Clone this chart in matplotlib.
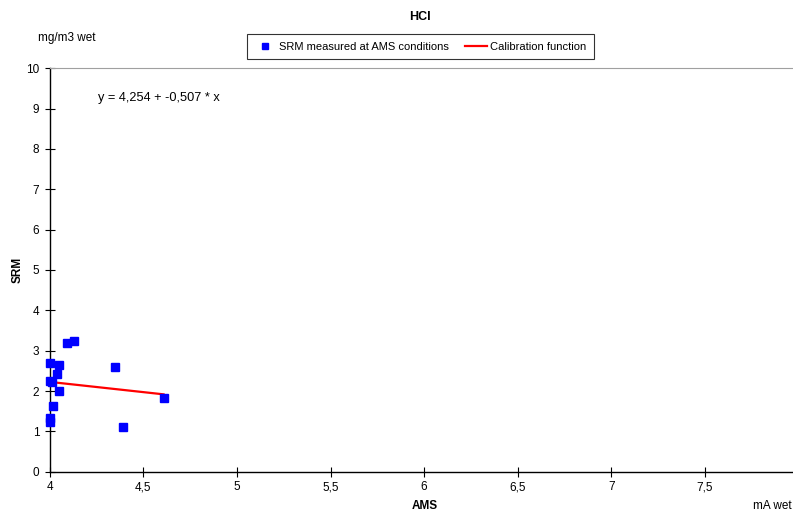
import matplotlib.pyplot as plt
from matplotlib.ticker import FuncFormatter

plt.rcParams['font.family'] = ['Liberation Sans', 'DejaVu Sans']

# measured pairs (AMS in mA wet, SRM in mg/m3 wet)
ams = [4.000, 4.091, 4.130, 4.050, 4.039, 4.000, 4.011, 4.050,
       4.019, 4.000, 4.000, 4.349, 4.390, 4.608]
srm = [2.69, 3.20, 3.24, 2.65, 2.43, 2.25, 2.23, 2.01,
       1.63, 1.32, 1.24, 2.59, 1.11, 1.83]

intercept = 4.254
slope = -0.507
x_ticks = [4, 4.5, 5, 5.5, 6, 6.5, 7, 7.5]
y_ticks = list(range(0, 11))


def comma(v, pos):
    s = ('%g' % v)
    return s.replace('.', ',')


fig = plt.figure(figsize=(7.93, 5.11), dpi=100)
ax = fig.add_axes([0.0627, 0.0769, 0.9373, 0.7895])

ax.plot(ams, srm, 's', color='#0000ff', markersize=5.2, linestyle='none',
        label='SRM measured at AMS conditions', zorder=3, clip_on=False)
xl = [min(ams), max(ams)]
ax.plot(xl, [intercept + slope * v for v in xl], color='#ff0000', lw=1.6,
        label='Calibration function', zorder=2, clip_on=False)

ax.set_xlim(4, 7.97)
ax.set_ylim(0, 10)
ax.set_xticks(x_ticks)
ax.set_yticks(y_ticks)
ax.xaxis.set_major_formatter(FuncFormatter(comma))
ax.tick_params(direction='inout', length=7, width=0.8, labelsize=8.5, pad=4)
ax.tick_params(axis='x', pad=10)
for lab in ax.get_xticklabels():
    lab.set_verticalalignment('baseline')

ax.spines['right'].set_visible(False)
ax.spines['top'].set_color('#a0a0a0')
ax.spines['left'].set_linewidth(1.0)
ax.spines['bottom'].set_linewidth(1.0)

ax.text(0.065, 0.926, 'y = 4,254 + -0,507 * x', transform=ax.transAxes, fontsize=9.2,
        va='center', ha='left')

fig.text(0.530, 0.966, 'HCI', fontsize=9, fontweight='bold', ha='center', va='center')
fig.text(0.084, 0.925, 'mg/m3 wet', fontsize=8.5, ha='center', va='center')
fig.text(0.022, 0.471, 'SRM', fontsize=8.5, fontweight='bold', rotation=90,
         ha='center', va='center')
fig.text(0.536, 0.010, 'AMS', fontsize=8.5, fontweight='bold', ha='center', va='center')
fig.text(0.974, 0.010, 'mA wet', fontsize=8.5, ha='center', va='center')

leg = fig.legend(loc='center', bbox_to_anchor=(0.530, 0.909), ncol=2, fontsize=8,
                 frameon=True, fancybox=False, numpoints=1, handlelength=1.9,
                 columnspacing=1.5, borderpad=0.7, handletextpad=0.3,
                 markerscale=0.8)
leg.get_frame().set_edgecolor('black')
leg.get_frame().set_linewidth(0.8)

fig.savefig('out.png', dpi=100)
